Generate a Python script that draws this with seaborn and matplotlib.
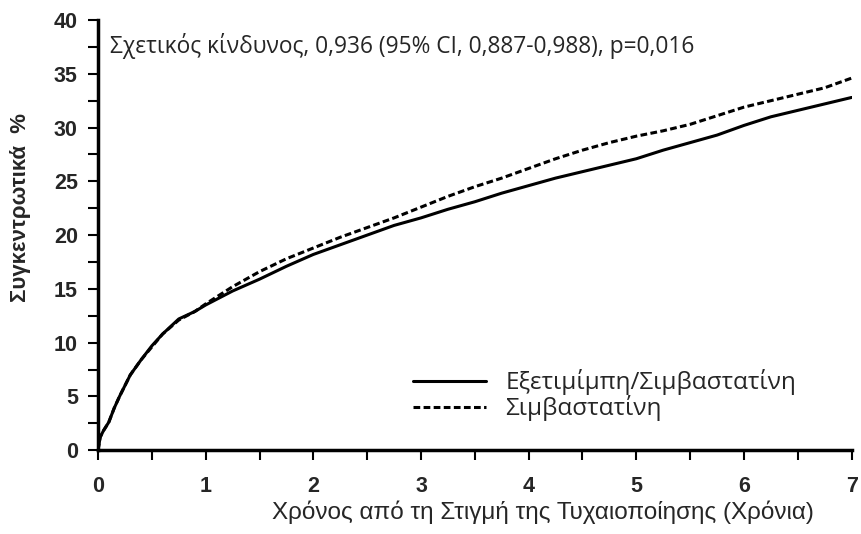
import numpy as np
import pandas as pd
import matplotlib.pyplot as plt
from matplotlib.ticker import MultipleLocator
import seaborn as sns

# Χρόνος (έτη) και αθροιστικά ποσοστά, διαβασμένα από την εικόνα
years = [0, 0.02, 0.05, 0.1, 0.15, 0.2, 0.3, 0.4, 0.5, 0.6, 0.75, 0.9, 1.0,
         1.25, 1.5, 1.75, 2.0, 2.25, 2.5, 2.75, 3.0, 3.25, 3.5, 3.75, 4.0,
         4.25, 4.5, 4.75, 5.0, 5.25, 5.5, 5.75, 6.0, 6.25, 6.5, 6.75, 7.0]
ezet_simva = [0, 1.2, 1.8, 2.6, 3.9, 5.0, 7.0, 8.4, 9.7, 10.8, 12.2, 12.9, 13.5,
              14.8, 15.9, 17.1, 18.2, 19.1, 20.0, 20.9, 21.6, 22.4, 23.1, 23.9, 24.6,
              25.3, 25.9, 26.5, 27.1, 27.9, 28.6, 29.3, 30.2, 31.0, 31.6, 32.2, 32.8]
simva = [0, 1.2, 1.8, 2.6, 3.9, 5.0, 7.0, 8.4, 9.6, 10.8, 12.1, 12.9, 13.6,
         15.2, 16.6, 17.8, 18.8, 19.8, 20.7, 21.6, 22.6, 23.6, 24.5, 25.3, 26.2,
         27.1, 27.9, 28.6, 29.2, 29.7, 30.3, 31.1, 31.9, 32.5, 33.1, 33.7, 34.6]

labels = ['Εξετιμίμπη/Σιμβαστατίνη', 'Σιμβαστατίνη']

df = pd.concat([
    pd.DataFrame({'t': years, 'pct': ezet_simva, 'group': labels[0]}),
    pd.DataFrame({'t': years, 'pct': simva, 'group': labels[1]}),
])

sns.set_style('ticks')
plt.rcParams['font.family'] = ['Liberation Sans', 'DejaVu Sans']
greek_font = ['Open Sans', 'DejaVu Sans']

fig = plt.figure(figsize=(8.62, 5.34), dpi=100)
ax = fig.add_axes([0.1137, 0.157, 0.8743, 0.8055])

sns.lineplot(data=df, x='t', y='pct', style='group', style_order=labels,
             dashes={labels[0]: '', labels[1]: (2.2, 1.1)},
             color='black', linewidth=2.2, ax=ax, legend=True)

ax.set_xlim(0, 7)
ax.set_ylim(0, 40)
ax.xaxis.set_major_locator(MultipleLocator(1))
ax.xaxis.set_minor_locator(MultipleLocator(0.5))
ax.yaxis.set_major_locator(MultipleLocator(5))
ax.yaxis.set_minor_locator(MultipleLocator(2.5))
ax.tick_params(which='both', length=7.5, width=1.5, color='black', labelsize=15.5)
ax.tick_params(axis='x', which='major', pad=11)
ax.tick_params(axis='y', which='major', pad=7)
for lab in ax.get_xticklabels() + ax.get_yticklabels():
    lab.set_fontweight('bold')
sns.despine(ax=ax)
for s in ['left', 'bottom']:
    ax.spines[s].set_linewidth(2.5)
    ax.spines[s].set_color('black')

ax.set_xlabel('Χρόνος από τη Στιγμή της Τυχαιοποίησης (Χρόνια)', fontsize=17.5)
ax.xaxis.set_label_coords(0.59, -0.118)
ax.set_ylabel('Συγκεντρωτικά  %', fontsize=16, fontweight='bold')
ax.yaxis.set_label_coords(-0.089, 0.563)

ax.text(0.11, 37.6, 'Σχετικός κίνδυνος, 0,936 (95% CI, 0,887-0,988), p=0,016',
        fontsize=16.4, family=greek_font, va='center')

leg = ax.legend(loc='center left', bbox_to_anchor=(0.402, 0.128), frameon=False,
                borderpad=0, handlelength=3.0, handletextpad=0.8, labelspacing=0.0,
                prop={'family': greek_font, 'size': 17.5})

fig.savefig('out.png', dpi=100)
